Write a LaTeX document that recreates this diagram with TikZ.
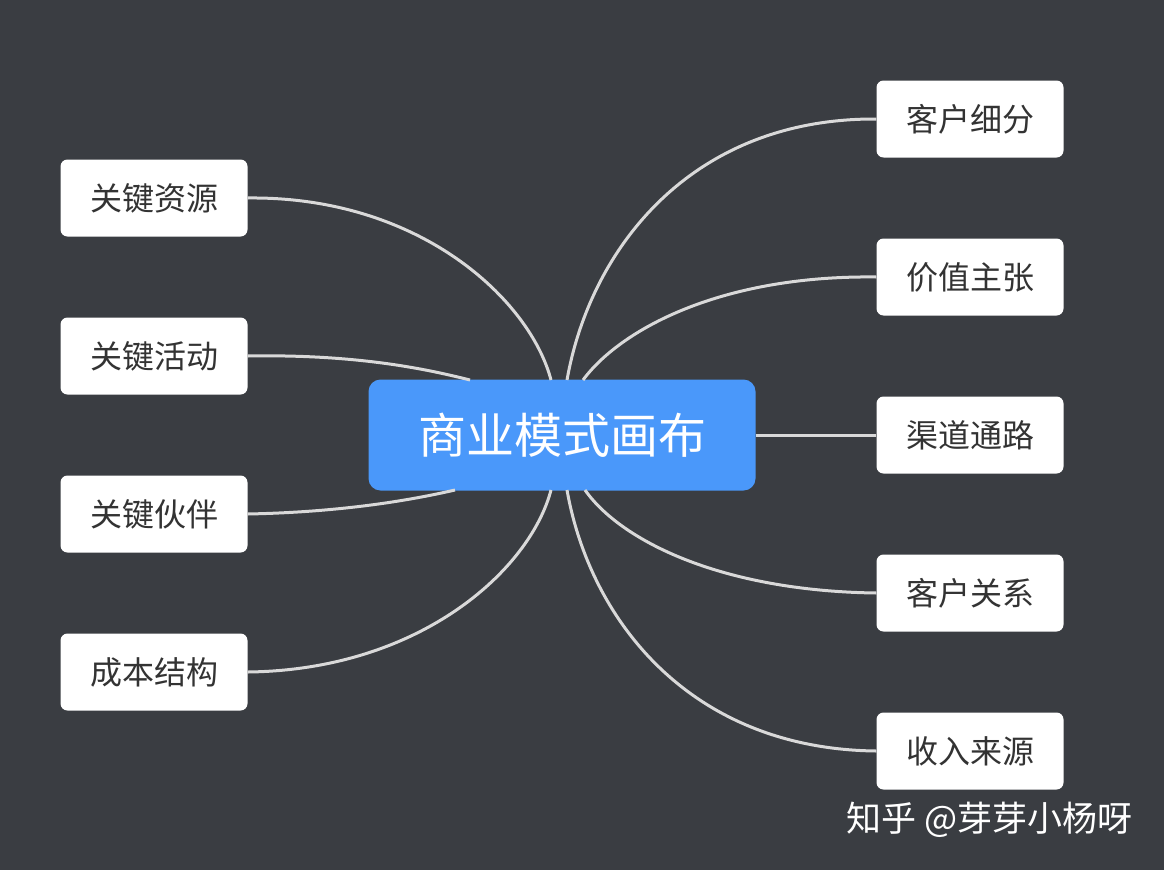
\documentclass[tikz,border=0pt]{standalone}
\usepackage{fontspec}
\setmainfont{Noto Sans CJK SC}
\definecolor{bg}{HTML}{3A3D42}
\definecolor{ctr}{HTML}{4A98FA}
\definecolor{ln}{HTML}{D9D9D9}
\definecolor{tx}{HTML}{333333}
\tikzset{leaf/.style={fill=white,rounded corners=7pt,minimum width=187pt,minimum height=77pt,text=tx,font=\fontsize{32}{38}\selectfont,inner sep=0pt},
conn/.style={draw=ln,line width=3pt}}
\begin{document}
\begin{tikzpicture}[x=1pt,y=-1pt]
\fill[bg] (0,0) rectangle (1164,870);
\useasboundingbox (0,0) rectangle (1164,870);
\node[fill=ctr,rounded corners=12pt,minimum width=387pt,minimum height=111pt,text=white,font=\fontsize{48}{54}\selectfont,inner sep=0pt] (c) at (562,435) {商业模式画布};
\node[leaf] (l1) at (154,198) {关键资源};
\node[leaf] (l2) at (154,356) {关键活动};
\node[leaf] (l3) at (154,514) {关键伙伴};
\node[leaf] (l4) at (154,672) {成本结构};
\node[leaf] (r1) at (970,119) {客户细分};
\node[leaf] (r2) at (970,277) {价值主张};
\node[leaf] (r3) at (970,435) {渠道通路};
\node[leaf] (r4) at (970,593) {客户关系};
\node[leaf] (r5) at (970,751) {收入来源};
\coordinate (a1) at (551,380); \coordinate (a2) at (470,380);
\coordinate (a3) at (455,490); \coordinate (a4) at (551,490);
\coordinate (b1) at (567,380); \coordinate (b2) at (583,380);
\coordinate (b4) at (585,490); \coordinate (b5) at (567,490);
\draw[conn] (l1.east) .. controls (420,196) and (530,300) .. (a1);
\draw[conn] (l2.east) .. controls (360,354) and (430,370) .. (a2);
\draw[conn] (l3.east) .. controls (350,512) and (420,498) .. (a3);
\draw[conn] (l4.east) .. controls (420,670) and (530,570) .. (a4);
\draw[conn] (r1.west) .. controls (690,118) and (590,250) .. (b1);
\draw[conn] (r2.west) .. controls (720,275) and (620,330) .. (b2);
\draw[conn] (c.east) -- (r3.west);
\draw[conn] (r4.west) .. controls (720,591) and (620,540) .. (b4);
\draw[conn] (r5.west) .. controls (690,749) and (590,620) .. (b5);
\node[text=white,font=\fontsize{35}{40}\selectfont,anchor=east,inner sep=0pt] (w) at (1133,820) {知乎 @芽芽小杨呀};
\end{tikzpicture}
\end{document}
